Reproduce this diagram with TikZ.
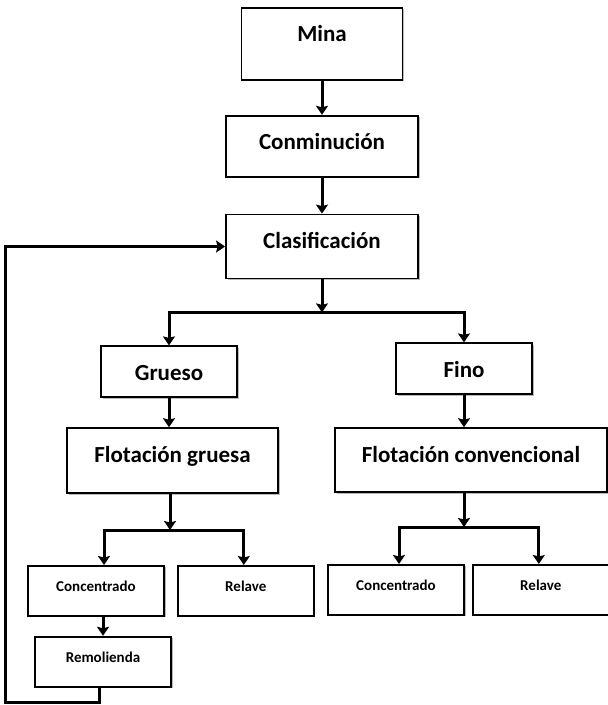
\documentclass[tikz,border=0pt]{standalone}
\usepackage{fontspec}
\setmainfont{Carlito}
\usetikzlibrary{positioning,arrows.meta,shadows}

\begin{document}
\begin{tikzpicture}[x=1pt, y=-1pt, node distance=34pt,
    box/.style={draw, fill=white, line width=1.8pt, inner sep=0pt, text height=34pt,
        minimum width=136pt, font=\fontsize{23}{27}\selectfont\bfseries,
        drop shadow={shadow xshift=1.5pt, shadow yshift=-1.5pt, fill=black!45, opacity=.6}},
    small/.style={box, text height=26pt, text depth=24pt, font=\fontsize{15}{18}\selectfont\bfseries},
    flow/.style={-{Stealth[length=9pt, width=12pt, inset=1.5pt]}, line width=3pt}]

    \useasboundingbox (0,0) rectangle (608,705);

    \node [box, anchor=north, minimum width=161pt, text depth=38pt] (Mina) at (322,7) {Mina};
    \node [box, minimum width=192pt, text depth=27pt] (Con) [below=of Mina] {Conminución};
    \node [box, minimum width=192pt, text depth=30pt] (Cla) [below=36pt of Con] {Clasificación};
    \node [box, text depth=17pt] (Gru) [below=66pt of Cla, xshift=-153pt] {Grueso};
    \node [box, text depth=17pt] (Fin) [below=63pt of Cla, xshift=142pt] {Fino};
    \node [box, minimum width=211pt, text depth=31pt] (FG) [below=29pt of Gru, xshift=3.5pt] {Flotación gruesa};
    \node [box, minimum width=272pt, text depth=30pt] (FC) [below=32pt of Fin, xshift=7pt] {Flotación convencional};
    \node [small] (CG) [below=71pt of FG, xshift=-76.5pt] {Concentrado};
    \node [small] (RG) [right=12pt of CG] {Relave};
    \node [small] (CF) [below=71pt of FC, xshift=-75pt] {Concentrado};
    \node [small] (RF) [right=7pt of CF] {Relave};
    \node [small] (Rem) [below=19pt of CG, xshift=7pt] {Remolienda};

    \coordinate [below=33pt of Cla] (S1);
    \coordinate [below=36pt of FG, xshift=-2.5pt] (S2);
    \coordinate [below=34pt of FC, xshift=-7pt] (S3);
    \coordinate (L) at (5,702);

    \draw[flow] (Mina) -- (Con);
    \draw[flow] (Con) -- (Cla);
    \draw[flow] (Cla) -- (S1);
    \draw[flow] (S1) -| (Gru.north);
    \draw[flow] (S1) -| (Fin.north);
    \draw[flow] (Gru.south) -- (Gru.south |- FG.north);
    \draw[flow] (Fin.south) -- (Fin.south |- FC.north);

    \draw[flow] (FG.south -| S2) -- (S2);
    \draw[flow] (S2) -| ([xshift=8pt]CG.north);
    \draw[flow] (S2) -| ([xshift=-2pt]RG.north);
    \draw[flow] (FC.south -| S3) -- (S3);
    \draw[flow] (S3) -| ([xshift=3pt]CF.north);
    \draw[flow] (S3) -| ([xshift=-2pt]RF.north);

    \draw[flow] (Rem.north |- CG.south) -- (Rem.north);
    \draw[flow] ([xshift=-4pt]Rem.south) |- (L) |- (Cla.west);

\end{tikzpicture}
\end{document}
